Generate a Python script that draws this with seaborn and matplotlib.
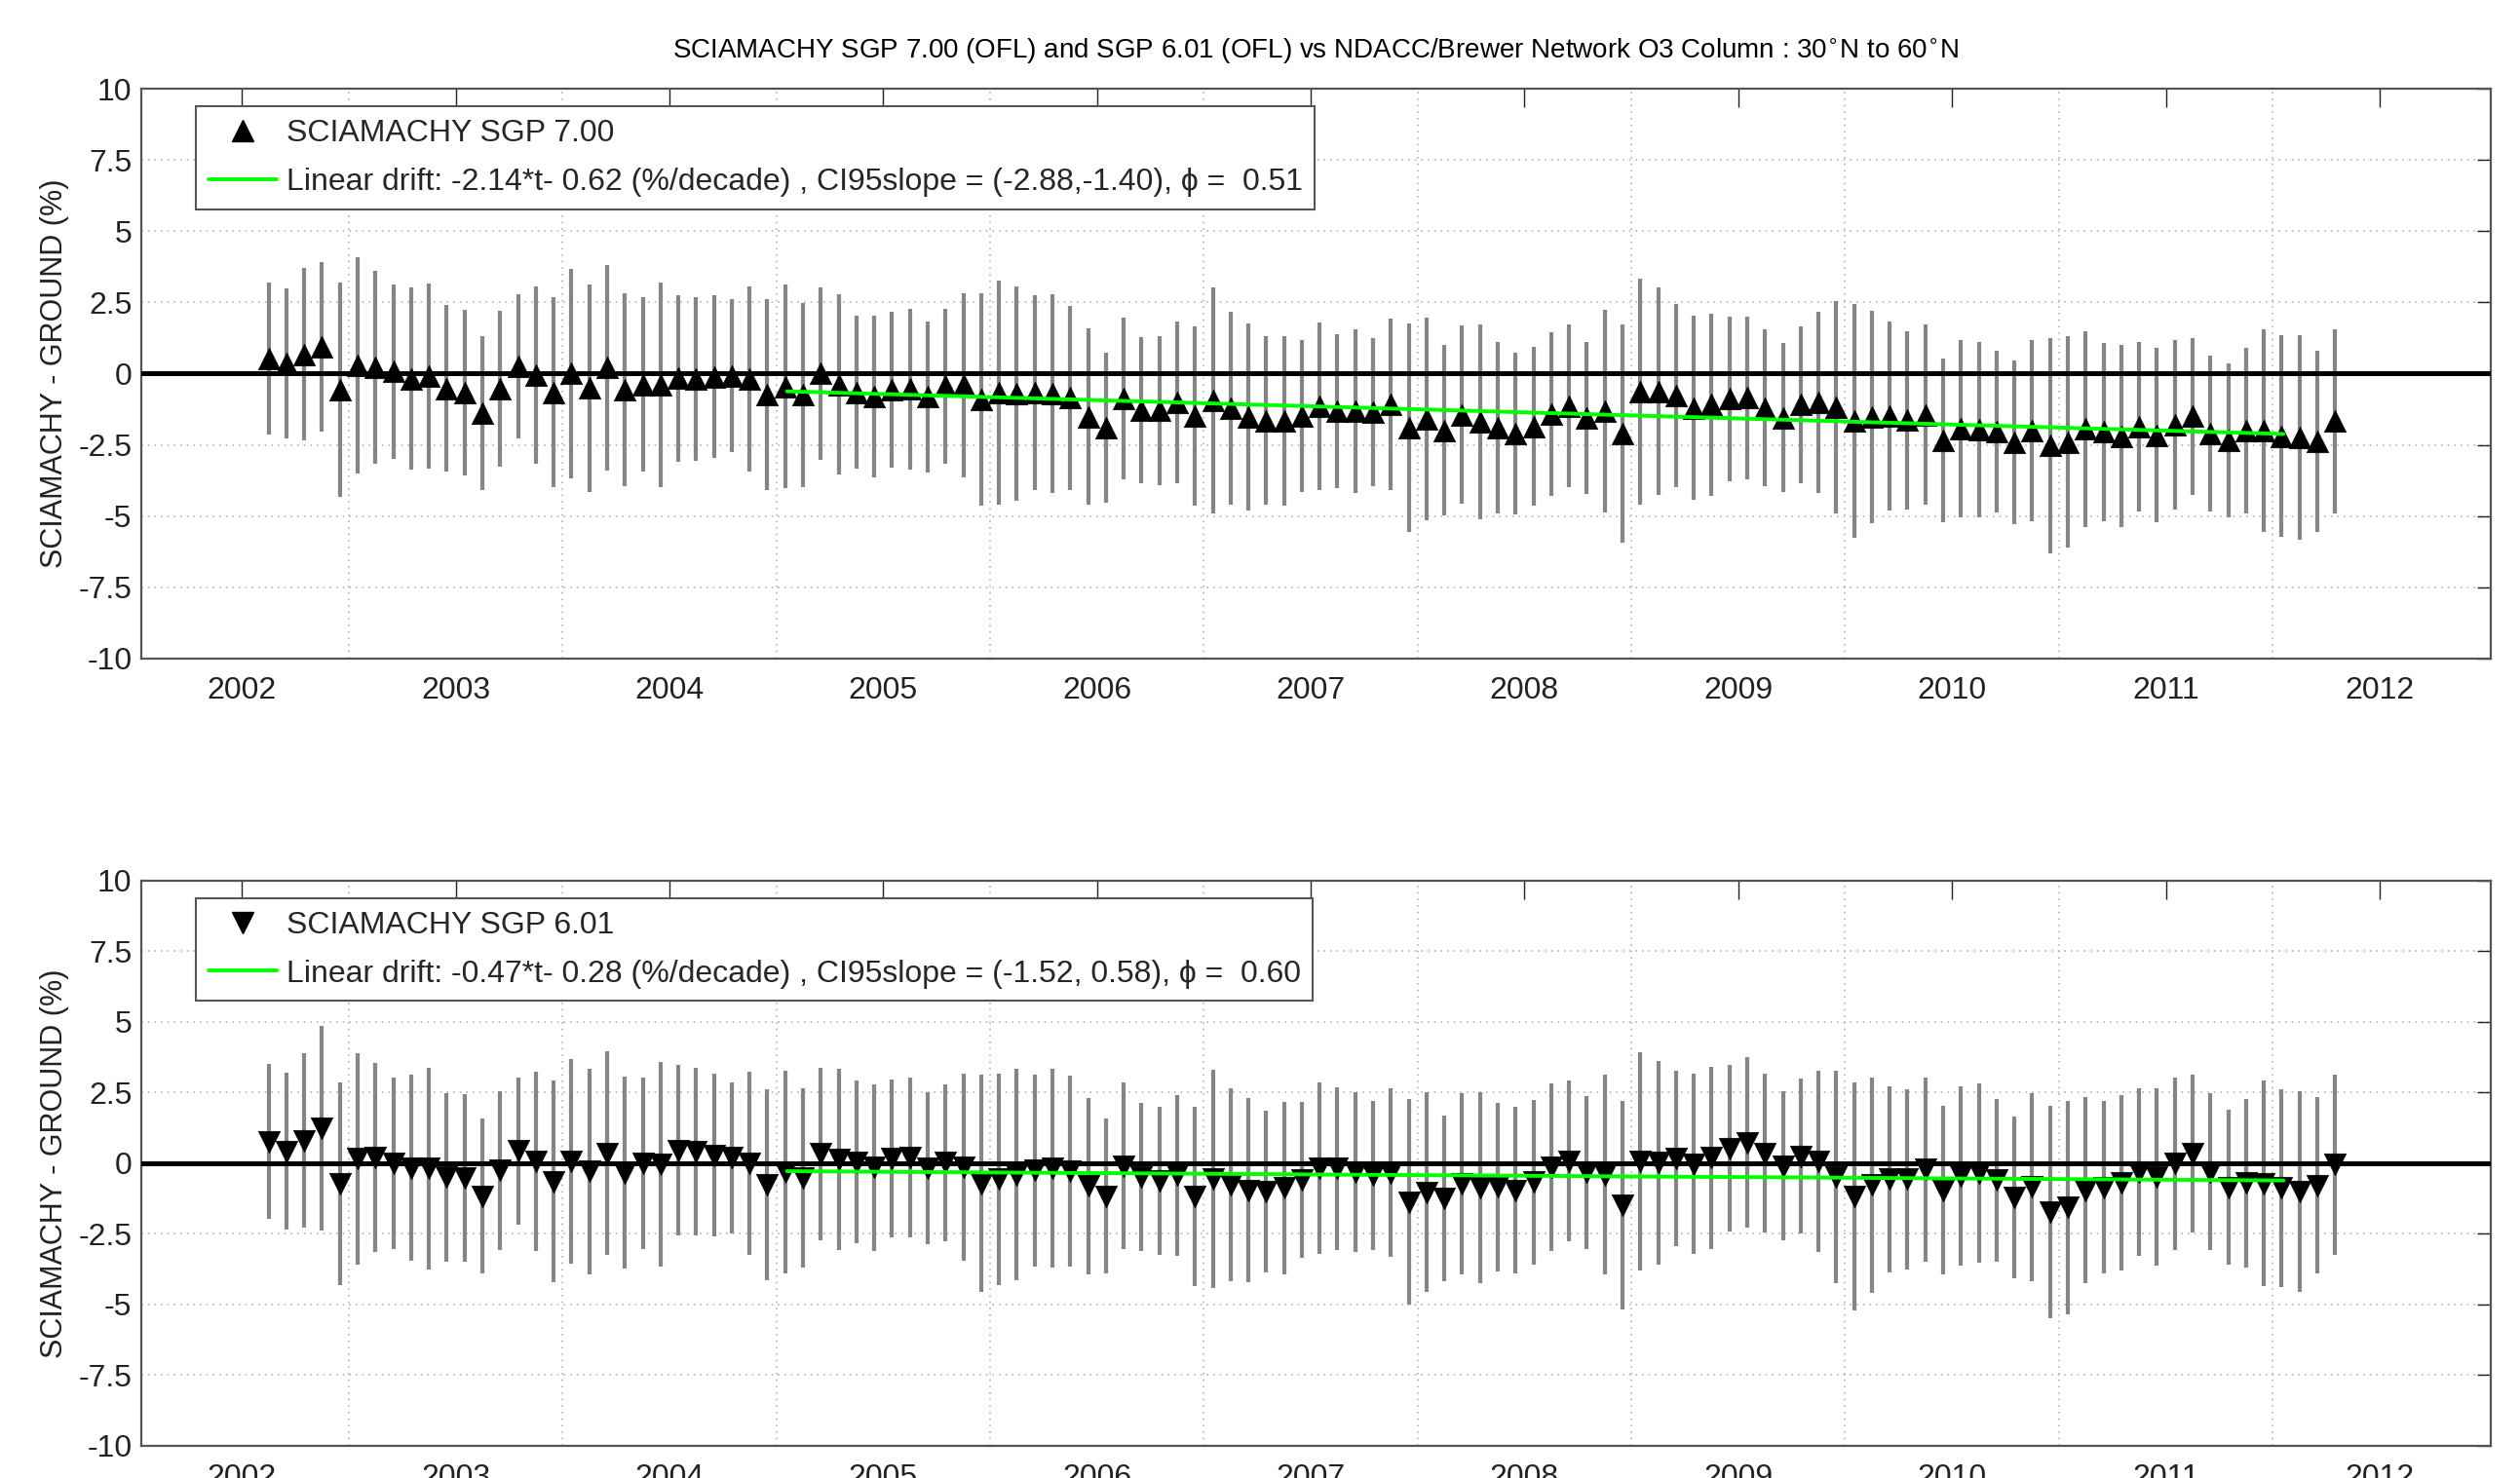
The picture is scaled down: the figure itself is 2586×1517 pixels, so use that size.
import numpy as np
import pandas as pd
import matplotlib
matplotlib.use("Agg")
import matplotlib.pyplot as plt
import seaborn as sns
from matplotlib.lines import Line2D

# ==========================================================
# Data (monthly mean differences, Feb 2002 - Oct 2011)
# ==========================================================

start_month = "2002-02"
n_months = 117

sgp700_diff = [
    0.53, 0.36, 0.68, 0.94, -0.57, 0.28, 0.21, 0.07, -0.18, -0.09, -0.52, -0.67,
    -1.38, -0.52, 0.25, -0.05, -0.65, 0.00, -0.51, 0.21, -0.56, -0.38, -0.39, -0.17,
    -0.19, -0.11, -0.07, -0.19, -0.74, -0.45, -0.75, 0.00,
    -0.38, -0.65, -0.79, -0.57, -0.54, -0.82, -0.44, -0.41, -0.92, -0.67, -0.70, -0.67,
    -0.70, -0.85, -1.51, -1.90, -0.88, -1.27, -1.29, -1.00, -1.49, -0.94, -1.22, -1.52,
    -1.65, -1.67, -1.48, -1.15, -1.31, -1.32,
    -1.35, -1.07, -1.89, -1.60, -1.99, -1.44, -1.69, -1.90, -2.09, -1.85, -1.41, -1.13,
    -1.55, -1.32, -2.10, -0.63, -0.62, -0.76, -1.20, -1.09, -0.88, -0.85, -1.20, -1.54,
    -1.09, -1.01, -1.18, -1.65, -1.52, -1.48,
    -1.64, -1.44, -2.35, -1.94, -1.97, -2.03, -2.41, -2.00, -2.52, -2.40, -1.94, -2.05,
    -2.19, -1.86, -2.16, -1.80, -1.50, -2.11, -2.35, -2.01, -2.00, -2.19, -2.24, -2.38,
    -1.67,
]
sgp700_err = [
    2.66, 2.64, 3.03, 2.97, 3.77, 3.80, 3.38, 3.07, 3.19, 3.26, 2.92, 2.90,
    2.70, 2.74, 2.53, 3.12, 3.34, 3.69, 3.64, 3.61, 3.38, 3.05, 3.58, 2.91,
    2.87, 2.85, 2.69, 3.26, 3.36, 3.58, 3.23, 3.04,
    3.16, 2.70, 2.84, 2.74, 2.82, 2.66, 2.73, 3.22, 3.73, 3.93, 3.76, 3.41,
    3.49, 3.23, 3.09, 2.64, 2.84, 2.56, 2.61, 2.83, 3.14, 3.95, 3.38, 3.27,
    2.95, 2.98, 2.67, 2.93, 2.70, 2.88,
    2.61, 3.01, 3.66, 3.56, 2.99, 3.14, 3.41, 3.00, 2.84, 2.80, 2.87, 2.84,
    2.67, 3.55, 3.82, 3.97, 3.63, 3.21, 3.24, 3.19, 2.89, 2.86, 2.76, 2.61,
    2.74, 3.18, 3.74, 4.11, 3.72, 3.31,
    3.13, 3.16, 2.87, 3.11, 3.09, 2.84, 2.88, 3.17, 3.78, 3.72, 3.43, 3.12,
    3.19, 2.97, 3.07, 2.97, 2.76, 2.74, 2.70, 2.91, 3.56, 3.55, 3.59, 3.18,
    3.23,
]

sgp601_diff = [
    0.76, 0.42, 0.80, 1.24, -0.72, 0.16, 0.20, 0.00, -0.16, -0.19, -0.50, -0.51,
    -1.17, -0.26, 0.44, 0.06, -0.65, 0.07, -0.29, 0.36, -0.34, 0.00, -0.04, 0.46,
    0.42, 0.29, 0.19, 0.00, -0.76, -0.31, -0.51, 0.33,
    0.14, 0.05, -0.15, 0.18, 0.22, -0.17, 0.02, -0.15, -0.71, -0.57, -0.40, -0.26,
    -0.18, -0.27, -0.81, -1.17, -0.09, -0.48, -0.63, -0.43, -1.17, -0.56, -0.76, -0.95,
    -0.99, -0.88, -0.58, -0.18, -0.19, -0.31,
    -0.43, -0.33, -1.37, -1.03, -1.24, -0.72, -0.86, -0.84, -0.95, -0.67, -0.13, 0.08,
    -0.32, -0.41, -1.49, 0.06, 0.02, 0.18, -0.03, 0.19, 0.53, 0.73, 0.36, -0.10,
    0.25, 0.07, -0.47, -1.18, -0.77, -0.57,
    -0.57, -0.22, -0.95, -0.45, -0.35, -0.59, -1.20, -0.84, -1.73, -1.57, -0.96, -0.86,
    -0.69, -0.30, -0.47, -0.01, 0.34, -0.30, -0.85, -0.70, -0.72, -0.88, -1.00, -0.78,
    -0.05,
]
sgp601_err = [
    2.74, 2.77, 3.08, 3.63, 3.58, 3.74, 3.34, 3.05, 3.28, 3.57, 2.97, 2.96,
    2.74, 2.80, 2.61, 3.18, 3.57, 3.61, 3.65, 3.60, 3.40, 3.05, 3.61, 3.02,
    2.97, 2.89, 2.67, 3.25, 3.39, 3.59, 3.18, 3.04,
    3.20, 2.87, 2.95, 2.80, 2.83, 2.70, 2.78, 3.31, 3.83, 3.74, 3.74, 3.38,
    3.51, 3.37, 3.13, 2.74, 2.95, 2.62, 2.63, 2.85, 3.18, 3.86, 3.42, 3.26,
    2.86, 3.06, 2.75, 3.03, 2.87, 2.83,
    2.65, 2.99, 3.63, 3.54, 2.92, 3.21, 3.39, 2.99, 2.96, 2.92, 2.96, 2.85,
    2.70, 3.53, 3.68, 3.87, 3.61, 3.11, 3.19, 3.21, 2.95, 3.02, 2.81, 2.64,
    2.74, 3.22, 3.76, 4.03, 3.81, 3.29,
    3.18, 3.25, 2.98, 3.17, 3.16, 2.88, 2.87, 3.32, 3.75, 3.78, 3.29, 3.05,
    3.10, 2.97, 3.14, 3.05, 2.79, 2.78, 2.74, 2.98, 3.64, 3.49, 3.54, 3.13,
    3.19,
]

# drift fit: slope (%/decade), offset (%), fit period
fit_start, fit_end = 2004.55, 2011.55
drift_700 = (-2.14, -0.62)
drift_601 = (-0.47, -0.28)

labels_700 = ["SCIAMACHY SGP 7.00",
              "Linear drift: -2.14*t- 0.62 (%/decade) , CI95slope = (-2.88,-1.40), \u03d5 =  0.51"]
labels_601 = ["SCIAMACHY SGP 6.01",
              "Linear drift: -0.47*t- 0.28 (%/decade) , CI95slope = (-1.52, 0.58), \u03d5 =  0.60"]

title = ("SCIAMACHY SGP 7.00 (OFL) and SGP 6.01 (OFL) vs NDACC/Brewer Network O3 Column : "
         "30$^{\\circ}$N to 60$^{\\circ}$N")

year_ticks = list(range(2002, 2013))
y_ticks = [-10, -7.5, -5, -2.5, 0, 2.5, 5, 7.5, 10]
y_ticklabels = ["-10", "-7.5", "-5", "-2.5", "0", "2.5", "5", "7.5", "10"]

# ==========================================================
# DataFrame
# ==========================================================

dates = pd.date_range(start_month, periods=n_months, freq="MS")
df = pd.DataFrame({
    "year": dates.year + (dates.month - 0.5) / 12.0,
    "v700": sgp700_diff,
    "e700": sgp700_err,
    "v601": sgp601_diff,
    "e601": sgp601_err,
})

# ==========================================================
# Style
# ==========================================================

sns.set_style("white")
plt.rcParams["font.family"] = ["Liberation Sans", "DejaVu Sans"]
plt.rcParams["mathtext.fontset"] = "dejavusans"

FS_TICK = 23
FS_LAB = 22
FS_LEG = 23
GREEN = "#00ff00"

fig = plt.figure(figsize=(25.86, 15.17), dpi=100)
ax1 = fig.add_axes([0.0561, 0.5544, 0.9323, 0.3856])
ax2 = fig.add_axes([0.0561, 0.0218, 0.9323, 0.3823])


def draw_panel(ax, val_col, err_col, marker, drift, labels):
    # grid
    for xg in np.arange(2002.5, 2012.0, 1.0):
        ax.axvline(xg, color="#b5b5b5", ls=(0, (1, 3)), lw=1.2, zorder=0)
    for yg in [-7.5, -5, -2.5, 2.5, 5, 7.5]:
        ax.axhline(yg, color="#b5b5b5", ls=(0, (1, 3)), lw=1.2, zorder=0)

    # error bars
    ax.vlines(df["year"], df[val_col] - df[err_col], df[val_col] + df[err_col],
              color="#858585", lw=3.0, zorder=2)

    ax.axhline(0, color="black", lw=3.6, zorder=3)

    sns.scatterplot(data=df, x="year", y=val_col, marker=marker, s=260,
                    color="black", edgecolor="black", linewidth=0.5,
                    ax=ax, zorder=4, legend=False)

    fit = pd.DataFrame({"year": [fit_start, fit_end]})
    fit["y"] = drift[1] + drift[0] * (fit["year"] - fit_start) / 10.0
    sns.lineplot(data=fit, x="year", y="y", color=GREEN, lw=2.8, ax=ax, zorder=5)

    ax.set_xlim(2001.53, 2012.52)
    ax.set_ylim(-10, 10)
    ax.set_xticks(year_ticks)
    ax.set_xticklabels([str(y) for y in year_ticks], fontsize=FS_TICK)
    ax.set_yticks(y_ticks)
    ax.set_yticklabels(y_ticklabels, fontsize=FS_TICK)
    ax.tick_params(axis="x", direction="in", length=14, width=1, top=True,
                   pad=13, colors="#222222")
    ax.tick_params(axis="y", direction="in", length=10, width=1, right=True,
                   pad=7, colors="#222222")
    ax.set_xlabel("")
    ax.set_ylabel("SCIAMACHY - GROUND (%)", fontsize=FS_LAB, color="#222222", labelpad=7)
    for sp in ax.spines.values():
        sp.set_color("#555555")
        sp.set_linewidth(1.6)

    handles = [
        Line2D([], [], marker=marker, color="black", ls="none", ms=16),
        Line2D([], [], color=GREEN, lw=2.8),
    ]
    leg = ax.legend(handles, labels, loc="upper left", bbox_to_anchor=(0.0232, 0.969),
                    borderaxespad=0, fontsize=FS_LEG, frameon=True, fancybox=False,
                    handlelength=2.2, handletextpad=0.3, borderpad=0.4,
                    labelspacing=0.62, numpoints=1)
    leg.get_frame().set_edgecolor("#555555")
    leg.get_frame().set_linewidth(1.5)
    leg.get_frame().set_alpha(1)
    leg.set_zorder(10)


draw_panel(ax1, "v700", "e700", "^", drift_700, labels_700)
draw_panel(ax2, "v601", "e601", "v", drift_601, labels_601)

fig.text(0.522, 0.965, title, ha="center", va="center", fontsize=20, color="black")

fig.savefig("out.png", dpi=100)
